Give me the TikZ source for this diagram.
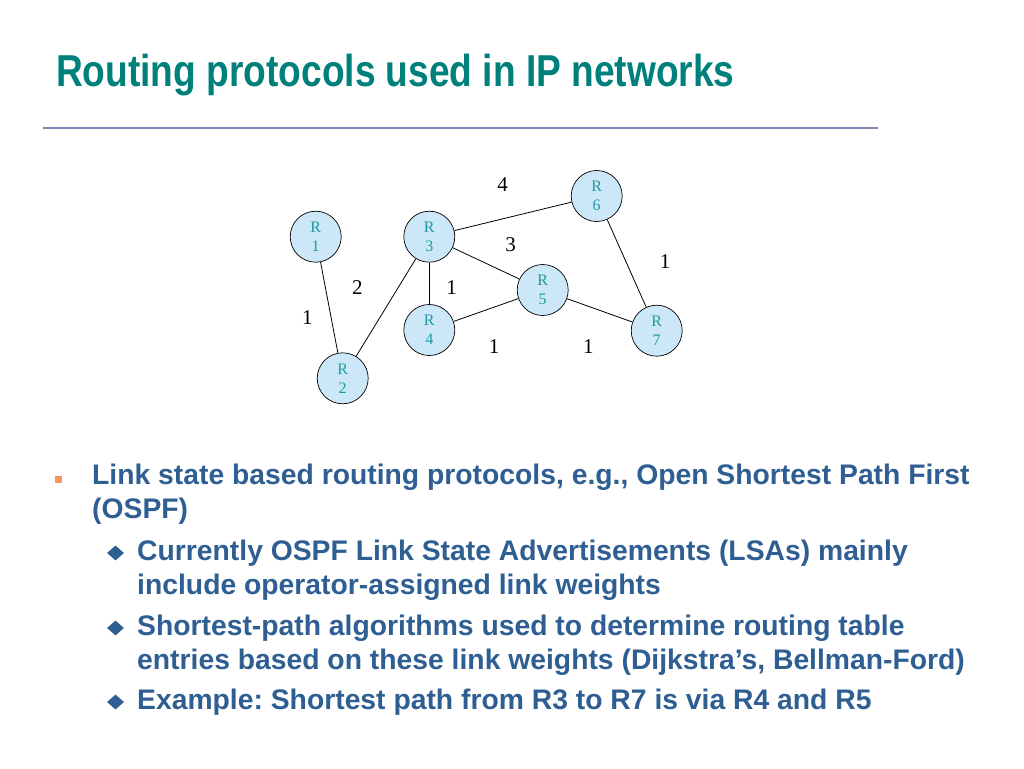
\documentclass[tikz,border=0pt]{standalone}
\usepackage{fontspec}
\setmainfont{Liberation Serif}
\newfontfamily\bodyfont{Liberation Sans}
\usetikzlibrary{shapes.geometric,positioning}
\definecolor{titleteal}{RGB}{0,128,122}
\definecolor{textblue}{RGB}{46,94,146}
\definecolor{bulorange}{RGB}{242,150,100}
\definecolor{routerfill}{RGB}{204,232,248}
\definecolor{routertext}{RGB}{30,155,160}
\definecolor{rulecol}{RGB}{128,136,184}
\frenchspacing

\begin{document}
\begin{tikzpicture}[x=1pt, y=-1pt,
    router/.style={circle, draw, line width=0.7pt, fill=routerfill, minimum size=51pt, inner sep=0pt,
      align=center, text=routertext, font=\fontsize{16}{19}\selectfont},
    link/.style={line width=0.8pt},
    weight/.style={inner sep=0pt, font=\fontsize{21}{24}\selectfont},
    line/.style={anchor=base west, inner sep=0pt, text=textblue,
      font=\bodyfont\bfseries\fontsize{28.3}{33}\selectfont},
    mainbul/.style={rectangle, fill=bulorange, minimum size=7pt, inner sep=0pt},
    subbul/.style={diamond, fill=textblue, minimum width=17pt, minimum height=15pt, inner sep=0pt}]
  \useasboundingbox (0,0) rectangle (1024,768);
  % title
  \node[anchor=base west, inner sep=0pt, text=titleteal,
    font=\bodyfont\bfseries\fontsize{44.7}{50}\selectfont] (title) at (56,86)
    {\scalebox{0.83}[1]{Routing protocols used in IP networks}};
  \coordinate (ruleL) at (43,128);
  \coordinate (ruleR) at (878,128);
  \draw[rulecol, line width=1.2pt] (ruleL) -- (ruleR);
  % routers
  \node[router] (R1) at (315.7,236.7) {R\\1};
  \node[router] (R2) at (342.7,378.3) {R\\2};
  \node[router] (R3) at (429.3,236.7) {R\\3};
  \node[router] (R4) at (429.3,330) {R\\4};
  \node[router] (R5) at (542.7,290) {R\\5};
  \node[router] (R6) at (596.7,196) {R\\6};
  \node[router] (R7) at (656.7,330.7) {R\\7};
  % links
  \draw[link] (R1) -- (R2);
  \draw[link] (R2) -- (R3);
  \draw[link] (R3) -- (R4);
  \draw[link] (R3) -- (R5);
  \draw[link] (R3) -- (R6);
  \draw[link] (R4) -- (R5);
  \draw[link] (R5) -- (R7);
  \draw[link] (R6) -- (R7);
  % weights
  \node[weight] (w12) at (307.3,317.7) {1};
  \node[weight] (w23) at (357.3,287.7) {2};
  \node[weight] (w34) at (451.7,287.7) {1};
  \node[weight] (w35) at (510.7,245) {3};
  \node[weight] (w36) at (502.7,185) {4};
  \node[weight] (w45) at (494,346.7) {1};
  \node[weight] (w57) at (588.3,346.7) {1};
  \node[weight] (w67) at (665,261.7) {1};
  % bullets
  \node[mainbul] (b1) at (58.5,479.5) {};
  \node[line] (l1) at (92,484) {Link state based routing protocols, e.g., Open Shortest Path First};
  \node[line] (l2) at (92,518) {(OSPF)};
  \node[subbul] (s1) at (115.5,553) {};
  \node[line] (l3) at (137,560) {Currently OSPF Link State Advertisements (LSAs) mainly};
  \node[line] (l4) at (137,594) {include operator-assigned link weights};
  \node[subbul] (s2) at (115.5,628) {};
  \node[line] (l5) at (137,635) {Shortest-path algorithms used to determine routing table};
  \node[line] (l6) at (137,669) {entries based on these link weights (Dijkstra’s, Bellman-Ford)};
  \node[subbul] (s3) at (115.5,702) {};
  \node[line] (l7) at (137,709) {Example: Shortest path from R3 to R7 is via R4 and R5};
\end{tikzpicture}
\end{document}
